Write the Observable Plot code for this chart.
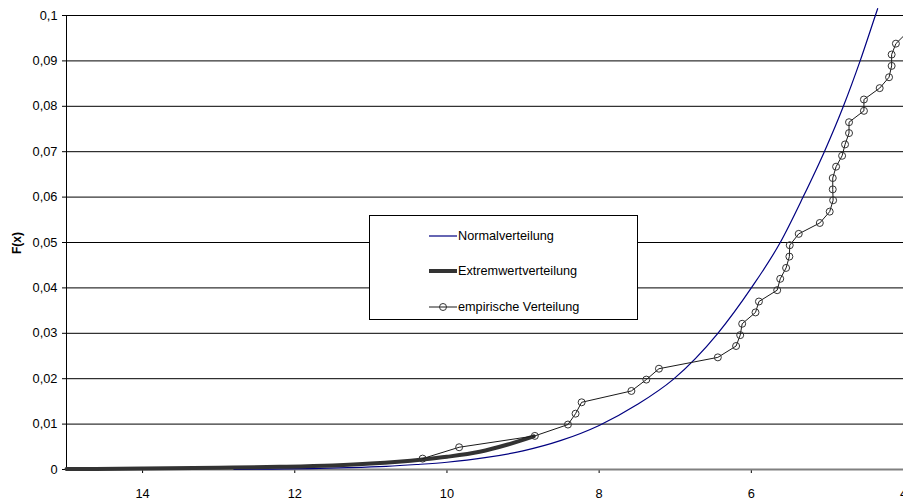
<!DOCTYPE html>
<html>
<head>
<meta charset="utf-8">
<script src="https://cdn.jsdelivr.net/npm/d3@7"></script>
<script src="https://cdn.jsdelivr.net/npm/@observablehq/plot@0.6"></script>
<style>
  html, body { margin: 0; padding: 0; background: white; }
  #wrap { position: relative; width: 903px; height: 500px; overflow: hidden; font-family: "Liberation Sans", Arial, sans-serif; }
  #ylabel { position: absolute; left: 16.7px; top: 242.5px; transform: translate(-50%, -50%) rotate(-90deg); font-weight: bold; font-size: 12px; color: black; white-space: nowrap; }
  #legend { position: absolute; left: 369px; top: 215px; width: 267px; height: 103px; border: 1px solid black; background: white; }
  .lrow { position: absolute; left: 0; height: 20px; display: flex; align-items: center; font-size: 12.7px; color: black; white-space: nowrap; }
  .lrow svg { margin-left: 59px; margin-right: 1px; }
</style>
</head>
<body>
<div id="wrap">
  <div id="chart"></div>
  <div id="ylabel">F(x)</div>
  <div id="legend"></div>
</div>
<script>
// ---- Data ----
const xTicks = [14, 12, 10, 8, 6, 4];
const xTickLabels = ["14", "12", "10", "8", "6", "4"];
const yTicks = [0, 0.01, 0.02, 0.03, 0.04, 0.05, 0.06, 0.07, 0.08, 0.09, 0.1];
const yTickLabels = ["0", "0,01", "0,02", "0,03", "0,04", "0,05", "0,06", "0,07", "0,08", "0,09", "0,1"];

const seriesNames = ["Normalverteilung", "Extremwertverteilung", "empirische Verteilung"];

// Normalverteilung (blue curve)
const normalX = [12.8, 12.3, 11.8, 11.3, 10.8, 10.4, 10.0, 9.5, 9.0, 8.5, 8.0, 7.5, 7.03, 6.44, 6.0, 5.62, 5.32, 5.04, 4.79, 4.57, 4.37, 4.34];
const normalY = [0.0000, 0.0001, 0.0002, 0.0004, 0.0007, 0.0011, 0.0016, 0.0026, 0.0041, 0.0064, 0.0097, 0.0143, 0.0198, 0.0300, 0.0400, 0.0500, 0.0600, 0.0700, 0.0800, 0.0900, 0.1000, 0.1015];

// Extremwertverteilung (thick gray curve)
const extremeX = [15, 14, 13, 12.2, 11.5, 11, 10.32, 10, 9.57, 9.2, 8.86];
const extremeY = [0.0001, 0.0002, 0.0004, 0.0006, 0.0009, 0.0013, 0.0022, 0.0028, 0.0039, 0.0055, 0.0073];

// empirische Verteilung (points)
const empX = [10.32, 9.84, 8.845, 8.41, 8.31, 8.23, 7.576, 7.38, 7.214, 6.44, 6.20, 6.146, 6.12, 5.945, 5.90, 5.66, 5.62, 5.543, 5.50, 5.495, 5.377, 5.10, 4.97, 4.925, 4.93, 4.93, 4.886, 4.807, 4.768, 4.716, 4.716, 4.52, 4.52, 4.313, 4.19, 4.156, 4.156, 4.10, 3.95];
const empY = [0.0024, 0.0049, 0.0074, 0.0099, 0.0123, 0.0148, 0.0173, 0.0198, 0.0222, 0.0247, 0.0272, 0.0296, 0.0321, 0.0346, 0.0370, 0.0395, 0.0420, 0.0444, 0.0469, 0.0494, 0.0519, 0.0543, 0.0568, 0.0593, 0.0617, 0.0642, 0.0667, 0.0691, 0.0716, 0.0741, 0.0765, 0.0790, 0.0815, 0.0840, 0.0864, 0.0889, 0.0914, 0.0938, 0.0963];

const toRows = (xs, ys) => xs.map((x, i) => ({x, y: ys[i]}));
const normal = toRows(normalX, normalY);
const extreme = toRows(extremeX, extremeY);
const emp = toRows(empX, empY);

const colors = {normal: "#000080", extreme: "#333333", emp: "#1a1a1a"};

const chart = Plot.plot({
  width: 903,
  height: 500,
  marginLeft: 66,
  marginRight: 0,
  marginTop: 15,
  marginBottom: 31,
  style: {fontFamily: "'Liberation Sans', Arial, sans-serif", fontSize: "12.8px", color: "black", background: "white", overflow: "hidden"},
  x: {domain: [15, 4], ticks: xTicks, tickSize: 4, tickPadding: 15, tickFormat: d => xTickLabels[xTicks.indexOf(d)], label: null},
  y: {domain: [0, 0.1], ticks: yTicks, tickSize: 4, tickPadding: 5, tickFormat: d => yTickLabels[yTicks.indexOf(d)], label: null, line: true},
  marks: [
    Plot.ruleY(yTicks.filter(d => d > 0), {stroke: "black", strokeWidth: 1}),
    Plot.ruleY([0], {stroke: "#808080", strokeWidth: 2}),
    Plot.line(normal, {x: "x", y: "y", stroke: colors.normal, strokeWidth: 1.2, curve: "monotone-x"}),
    Plot.line(extreme, {x: "x", y: "y", stroke: colors.extreme, strokeWidth: 4, curve: "monotone-x"}),
    Plot.line(emp, {x: "x", y: "y", stroke: colors.emp, strokeWidth: 1}),
    Plot.dot(emp, {x: "x", y: "y", r: 3.5, stroke: "#333333", strokeWidth: 1, fill: "none"})
  ]
});
document.getElementById("chart").appendChild(chart);

// ---- Legend ----
const legend = document.getElementById("legend");
const rowTops = [10, 45, 81];
const sampleStyles = [
  {stroke: colors.normal, width: 1.2, dot: false},
  {stroke: colors.extreme, width: 4, dot: false},
  {stroke: colors.emp, width: 1, dot: true}
];
seriesNames.forEach((name, i) => {
  const row = document.createElement("div");
  row.className = "lrow";
  row.style.top = rowTops[i] + "px";
  const s = sampleStyles[i];
  const svg = d3.create("svg").attr("width", 28).attr("height", 20);
  svg.append("line").attr("x1", 0).attr("x2", 28).attr("y1", 10).attr("y2", 10)
    .attr("stroke", s.stroke).attr("stroke-width", s.width);
  if (s.dot) {
    svg.append("circle").attr("cx", 14).attr("cy", 10).attr("r", 3.5)
      .attr("fill", "none").attr("stroke", "#333333");
  }
  row.appendChild(svg.node());
  const span = document.createElement("span");
  span.textContent = name;
  row.appendChild(span);
  legend.appendChild(row);
});
</script>
</body>
</html>
